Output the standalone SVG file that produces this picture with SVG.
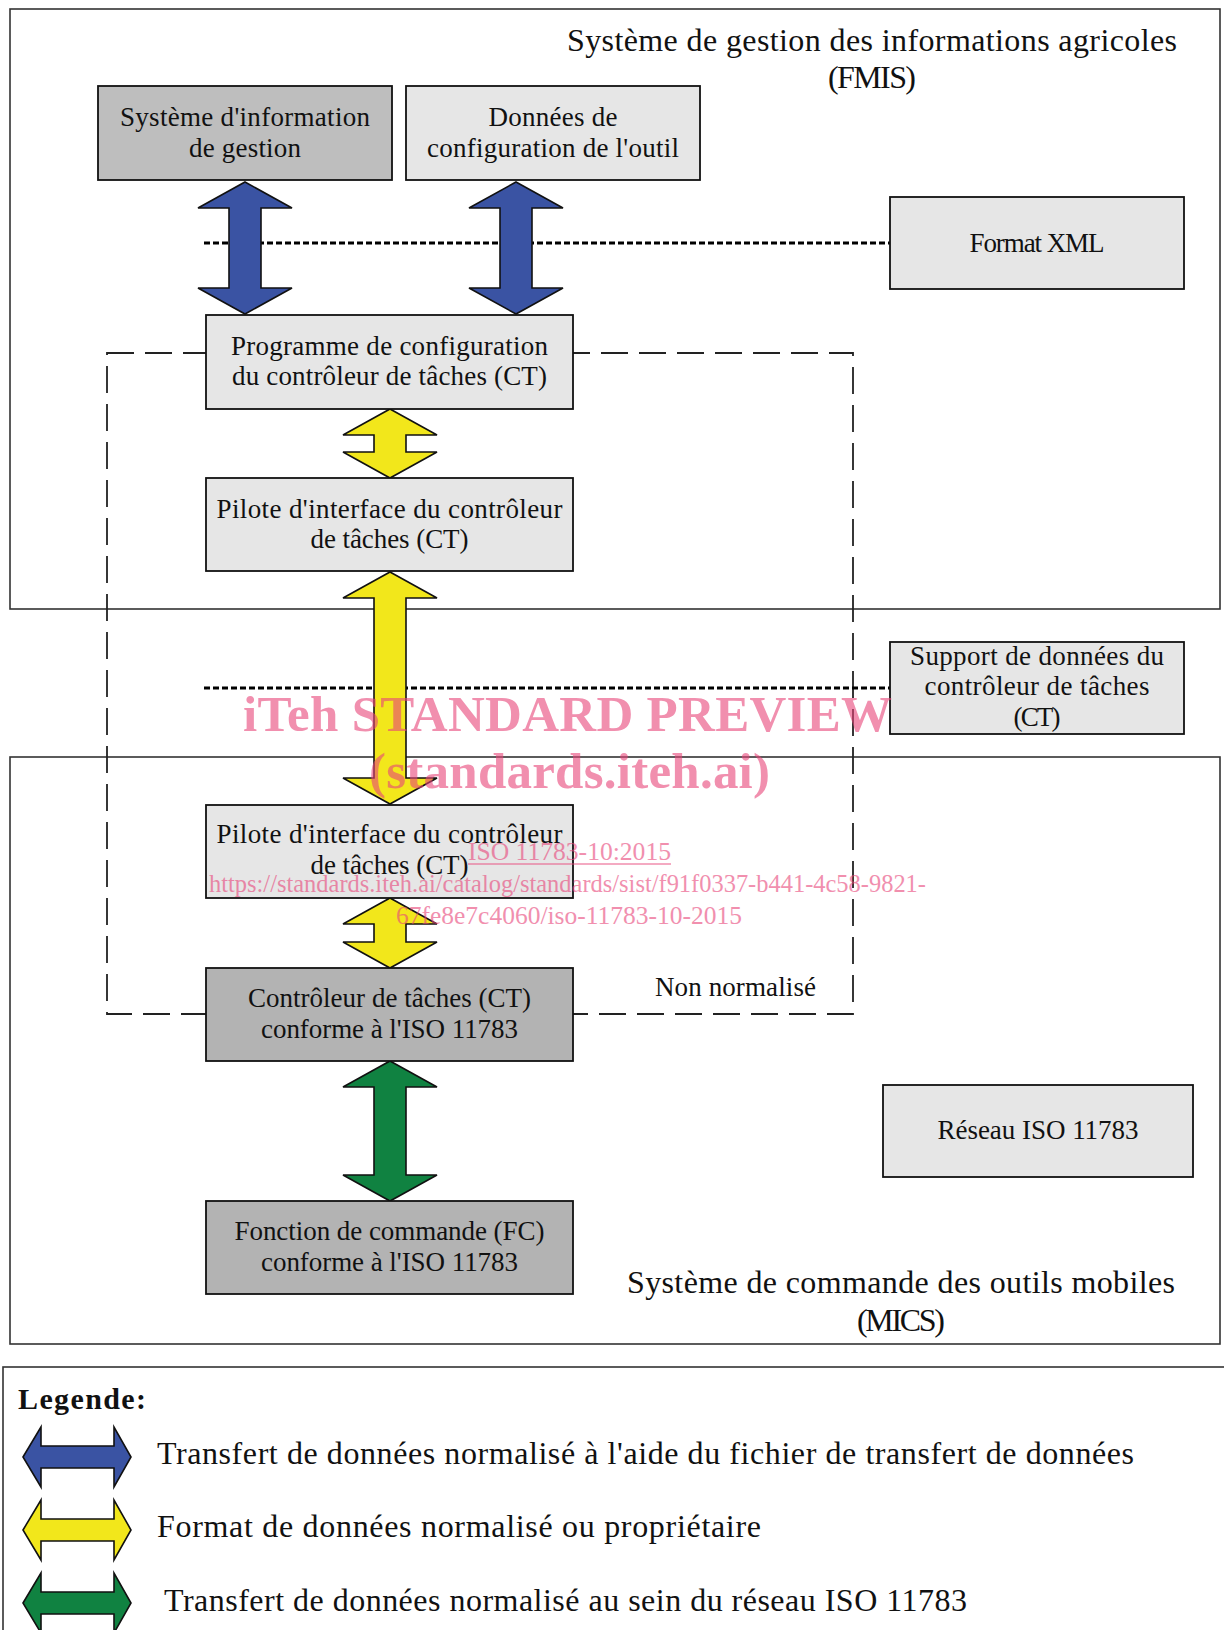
<svg xmlns="http://www.w3.org/2000/svg" width="1224" height="1630" viewBox="0 0 1224 1630">
<style>
.frame{fill:none;stroke:#333;stroke-width:1.6}
.box{stroke:#111;stroke-width:1.8}
.light{fill:#E6E6E6}
.dark1{fill:#BEBEBE}
.dark2{fill:#B3B3B3}
.t{font-family:"Liberation Serif","Times New Roman",serif;font-size:27px;fill:#111;text-anchor:middle}
.title{font-family:"Liberation Serif","Times New Roman",serif;font-size:32px;fill:#111;text-anchor:middle}
.leg{font-family:"Liberation Serif","Times New Roman",serif;font-size:32px;fill:#111}
.legh{font-family:"Liberation Serif","Times New Roman",serif;font-size:30px;font-weight:bold;fill:#111}
.arr{stroke:#111;stroke-width:1.6;stroke-linejoin:miter}
.blue{fill:#3A53A3}
.yellow{fill:#F2E71B}
.green{fill:#108241}
.dot{fill:none;stroke:#000;stroke-width:3;stroke-dasharray:6 3}
.dash{fill:none;stroke:#222;stroke-width:1.8;stroke-dasharray:27 11}
.wm{font-family:"Liberation Serif","Times New Roman",serif;fill:#E8457A;opacity:0.6;text-anchor:middle}
</style>

<g id="fmis">
<rect class="frame" x="10" y="9" width="1210" height="600"/>
<text class="title" x="872" y="51" textLength="610">Système de gestion des informations agricoles</text>
<text class="title" x="872" y="88" textLength="88">(FMIS)</text>
</g>
<g id="mics">
<rect class="frame" x="10" y="757" width="1210" height="587"/>
<text class="title" x="901" y="1293" textLength="548">Système de commande des outils mobiles</text>
<text class="title" x="901" y="1331" textLength="88">(MICS)</text>
</g>

<g id="non-normalise">
<rect class="dash" x="107" y="353" width="746" height="661"/>
<text class="t" x="735.5" y="996" textLength="161">Non normalisé</text>
</g>

<g id="connectors">
<line class="dot" x1="204" y1="243" x2="890" y2="243"/>
<line class="dot" x1="204" y1="688" x2="890" y2="688"/>
<path class="arr blue" d="M245,182 L292,208 L261,208 L261,288 L292,288 L245,314 L198,288 L229,288 L229,208 L198,208 Z"/>
<path class="arr blue" d="M516,182 L563,208 L532,208 L532,288 L563,288 L516,314 L469,288 L500,288 L500,208 L469,208 Z"/>
<path class="arr yellow" d="M390,409 L437,435 L406,435 L406,452 L437,452 L390,478 L343,452 L374,452 L374,435 L343,435 Z"/>
<path class="arr yellow" d="M390,572 L437,598 L406,598 L406,778 L437,778 L390,804 L343,778 L374,778 L374,598 L343,598 Z"/>
<path class="arr yellow" d="M390,898 L437,924 L406,924 L406,942 L437,942 L390,968 L343,942 L374,942 L374,924 L343,924 Z"/>
<path class="arr green" d="M390,1061 L437,1087 L406,1087 L406,1175 L437,1175 L390,1201 L343,1175 L374,1175 L374,1087 L343,1087 Z"/>
</g>

<g id="n-sig">
<rect class="box dark1" x="98" y="86" width="294" height="94"/>
<text class="t" x="245" y="126" textLength="250">Système d'information</text>
<text class="t" x="245" y="156.5" textLength="112">de gestion</text>
</g>
<g id="n-donnees">
<rect class="box light" x="406" y="86" width="294" height="94"/>
<text class="t" x="553" y="126" textLength="129">Données de</text>
<text class="t" x="553" y="156.5" textLength="252">configuration de l'outil</text>
</g>
<g id="n-xml">
<rect class="box light" x="890" y="197" width="294" height="92"/>
<text class="t" x="1037" y="252" textLength="135">Format XML</text>
</g>
<g id="n-programme">
<rect class="box light" x="206" y="315" width="367" height="94"/>
<text class="t" x="389.5" y="354.5" textLength="317">Programme de configuration</text>
<text class="t" x="389.5" y="385" textLength="315">du contrôleur de tâches (CT)</text>
</g>
<g id="n-pilote1">
<rect class="box light" x="206" y="478" width="367" height="93"/>
<text class="t" x="389.5" y="518" textLength="346">Pilote d'interface du contrôleur</text>
<text class="t" x="389.5" y="548" textLength="158">de tâches (CT)</text>
</g>
<g id="n-support">
<rect class="box light" x="890" y="642" width="294" height="92"/>
<text class="t" x="1037" y="665" textLength="254">Support de données du</text>
<text class="t" x="1037" y="695" textLength="225">contrôleur de tâches</text>
<text class="t" x="1037" y="726" textLength="47">(CT)</text>
</g>
<g id="n-pilote2">
<rect class="box light" x="206" y="805" width="367" height="93"/>
<text class="t" x="389.5" y="843" textLength="346">Pilote d'interface du contrôleur</text>
<text class="t" x="389.5" y="874" textLength="158">de tâches (CT)</text>
</g>
<g id="n-ct">
<rect class="box dark2" x="206" y="968" width="367" height="93"/>
<text class="t" x="389.5" y="1007" textLength="283">Contrôleur de tâches (CT)</text>
<text class="t" x="389.5" y="1038" textLength="257">conforme à l'ISO 11783</text>
</g>
<g id="n-reseau">
<rect class="box light" x="883" y="1085" width="310" height="92"/>
<text class="t" x="1038" y="1139" textLength="201">Réseau ISO 11783</text>
</g>
<g id="n-fc">
<rect class="box dark2" x="206" y="1201" width="367" height="93"/>
<text class="t" x="389.5" y="1240" textLength="310">Fonction de commande (FC)</text>
<text class="t" x="389.5" y="1271" textLength="257">conforme à l'ISO 11783</text>
</g>

<g id="legend">
<rect class="frame" x="3" y="1367" width="1230" height="300"/>
<text class="legh" x="18" y="1409" textLength="128">Legende:</text>
<path class="arr blue" d="M23,1457 L41,1427 L41,1446 L114,1446 L114,1427 L131,1457 L114,1487 L114,1468 L41,1468 L41,1487 Z"/>
<path class="arr yellow" d="M23,1530 L41,1500 L41,1519 L114,1519 L114,1500 L131,1530 L114,1560 L114,1541 L41,1541 L41,1560 Z"/>
<path class="arr green" d="M23,1603 L41,1573 L41,1592 L114,1592 L114,1573 L131,1603 L114,1633 L114,1614 L41,1614 L41,1633 Z"/>
<text class="leg" x="157" y="1464" textLength="977">Transfert de données normalisé à l'aide du fichier de transfert de données</text>
<text class="leg" x="157" y="1537" textLength="604">Format de données normalisé ou propriétaire</text>
<text class="leg" x="164" y="1611" textLength="803">Transfert de données normalisé au sein du réseau ISO 11783</text>
</g>

<g id="watermark">
<text class="wm" x="567.5" y="731" font-size="51" font-weight="bold" textLength="649">iTeh STANDARD PREVIEW</text>
<text class="wm" x="569.5" y="788" font-size="51" font-weight="bold" textLength="401">(standards.iteh.ai)</text>
<text class="wm" x="569.5" y="860" font-size="25" textLength="203" lengthAdjust="spacingAndGlyphs">ISO 11783-10:2015</text>
<line x1="468" y1="864" x2="671" y2="864" stroke="#E8457A" stroke-width="1.3" opacity="0.6"/>
<text class="wm" x="567.5" y="892" font-size="25" textLength="717" lengthAdjust="spacingAndGlyphs">https://standards.iteh.ai/catalog/standards/sist/f91f0337-b441-4c58-9821-</text>
<text class="wm" x="569" y="924" font-size="25" textLength="346" lengthAdjust="spacingAndGlyphs">67fe8e7c4060/iso-11783-10-2015</text>
</g>
</svg>
